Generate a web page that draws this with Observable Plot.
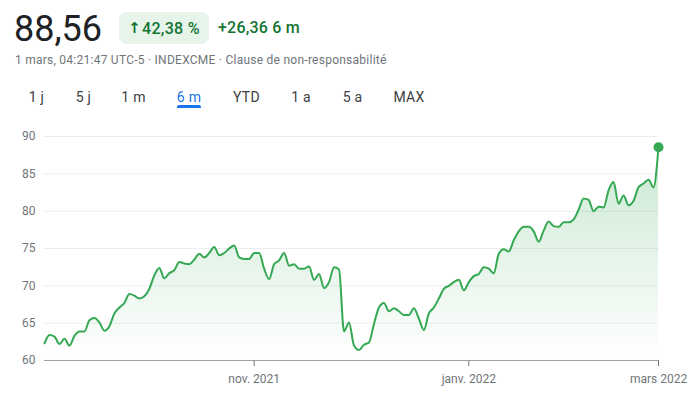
<!DOCTYPE html>
<html>
<head>
<meta charset="utf-8">
<script src="https://cdn.jsdelivr.net/npm/d3@7"></script>
<script src="https://cdn.jsdelivr.net/npm/@observablehq/plot@0.6"></script>
<style>
  html, body { margin: 0; padding: 0; background: #fff; }
  #wrap { position: relative; width: 699px; height: 398px; overflow: hidden; font-family: Roboto, "Noto Sans", sans-serif; }
  .abs { position: absolute; white-space: nowrap; }
  #price { left: 14px; top: 11px; font-size: 36px; line-height: 36px; color: #202124; }
  #badge { left: 119px; top: 12px; width: 90px; height: 32px; border-radius: 8px; background: #e6f4ea; color: #137333;
           font-size: 16px; font-weight: 500; display: flex; align-items: center; justify-content: center; letter-spacing: 0.3px; }
  #badge .arrow { font-family: "DejaVu Sans", sans-serif; font-size: 15px; font-weight: 700; margin-right: 1px; }
  #change { left: 218px; top: 20px; font-size: 16px; line-height: 16px; font-weight: 500; color: #137333; letter-spacing: 0.2px; }
  #sub { left: 15px; top: 53px; font-size: 12px; line-height: 14px; color: #70757a; letter-spacing: 0.25px; }
  .tab { position: absolute; top: 89px; font-size: 14px; line-height: 16px; color: #3c4043; transform: translateX(-50%); letter-spacing: 0.25px; }
  .tab.active { color: #1a73e8; }
  #underline { left: 177px; top: 105px; width: 24px; height: 3px; background: #1a73e8; border-radius: 2px 2px 0 0; }
  #chart { position: absolute; left: 0; top: 120px; }
</style>
</head>
<body>
<div id="wrap">
  <div id="price" class="abs"></div>
  <div id="badge" class="abs"><span class="arrow"></span><span class="pct"></span></div>
  <div id="change" class="abs"></div>
  <div id="sub" class="abs"></div>
  <div id="tabs"></div>
  <div id="underline" class="abs"></div>
  <div id="chart"></div>
</div>
<script>
// ---- data ----
const priceText = "88,56";
const badgeArrow = "↑";
const badgeText = "42,38 %";
const changeText = "+26,36 6 m";
const subText = "1 mars, 04:21:47 UTC-5 · INDEXCME · Clause de non-responsabilité";
const tabLabels = ["1 j", "5 j", "1 m", "6 m", "YTD", "1 a", "5 a", "MAX"];
const tabCenters = [36.5, 83.5, 133.5, 189, 246.5, 301, 352.5, 409];
const activeTab = "6 m";

const values = [
  62.3, 63.4, 63.2, 62.2, 62.9, 62.0, 63.3, 63.9, 63.9, 65.4,
  65.7, 65.1, 64.0, 64.6, 66.3, 67.1, 67.7, 68.9, 68.7, 68.3,
  68.6, 69.6, 71.4, 72.4, 71.0, 71.7, 72.1, 73.2, 73.0, 72.9,
  73.5, 74.3, 73.8, 74.4, 75.2, 74.1, 74.4, 75.0, 75.4, 73.8,
  73.6, 73.6, 74.4, 74.4, 72.3, 70.9, 72.9, 73.4, 74.4, 72.7,
  72.9, 72.3, 72.3, 72.6, 70.8, 71.6, 69.7, 70.5, 72.5, 72.2,
  63.9, 65.1, 62.0, 61.4, 62.1, 62.4, 64.9, 67.1, 67.7, 66.6,
  67.0, 66.6, 66.1, 66.1, 67.0, 65.6, 64.1, 66.3, 67.1, 68.3,
  69.6, 70.0, 70.5, 70.8, 69.4, 70.5, 71.3, 71.6, 72.5, 72.3,
  71.7, 74.3, 74.9, 74.6, 76.1, 77.3, 77.9, 77.9, 77.3, 75.9,
  77.4, 78.6, 78.0, 77.9, 78.5, 78.5, 78.9, 80.2, 81.7, 81.5,
  80.0, 80.6, 80.5, 82.8, 83.9, 81.0, 82.1, 80.8, 81.4, 83.2,
  83.7, 84.2, 83.2, 88.56
];
const xTickIndex = [42, 85, 123];
const xTickLabels = ["nov. 2021", "janv. 2022", "mars 2022"];
const yTicks = [60, 65, 70, 75, 80, 85, 90];

// ---- header ----
document.getElementById("price").textContent = priceText;
document.querySelector("#badge .arrow").textContent = badgeArrow;
document.querySelector("#badge .pct").textContent = badgeText;
document.getElementById("change").textContent = changeText;
document.getElementById("sub").textContent = subText;
const tabs = document.getElementById("tabs");
tabLabels.forEach((t, i) => {
  const d = document.createElement("div");
  d.className = "tab" + (t === activeTab ? " active" : "");
  d.style.left = tabCenters[i] + "px";
  d.textContent = t;
  tabs.appendChild(d);
});

// ---- chart ----
const data = values.map((v, i) => ({i, v}));
const last = data[data.length - 1];
const labelOf = new Map(xTickIndex.map((d, k) => [d, xTickLabels[k]]));

const chart = Plot.plot({
  width: 699,
  height: 278,
  marginTop: 16,
  marginBottom: 38,
  marginLeft: 44,
  marginRight: 41,
  style: {fontFamily: "Roboto, sans-serif", fontSize: "12px", color: "#70757a", background: "transparent", overflow: "visible"},
  x: {domain: [0, values.length - 1], ticks: xTickIndex, tickFormat: d => labelOf.get(d), tickSize: 6, tickPadding: 8, label: null},
  y: {domain: [60, 90], ticks: yTicks, tickSize: 0, tickPadding: 9, label: null},
  marks: [
    Plot.ruleY(yTicks.filter(d => d > 60), {stroke: "#ebedef", strokeWidth: 1}),
    Plot.areaY(data, {x: "i", y1: () => 60, y2: "v", curve: "monotone-x", fill: "url(#areaGrad)"}),
    Plot.ruleY([60], {stroke: "#9aa0a6", strokeWidth: 1}),
    Plot.line(data, {x: "i", y: "v", stroke: "#34a853", strokeWidth: 2, curve: "monotone-x"}),
    Plot.dot([last], {x: "i", y: "v", r: 5, fill: "#34a853", stroke: "none"})
  ]
});

const ns = "http://www.w3.org/2000/svg";
const defs = document.createElementNS(ns, "defs");
defs.innerHTML = '<linearGradient id="areaGrad" x1="0" y1="0" x2="0" y2="1">' +
  '<stop offset="0" stop-color="#34a853" stop-opacity="0.26"/>' +
  '<stop offset="1" stop-color="#34a853" stop-opacity="0"/></linearGradient>';
chart.insertBefore(defs, chart.firstChild);
document.getElementById("chart").appendChild(chart);
</script>
</body>
</html>
